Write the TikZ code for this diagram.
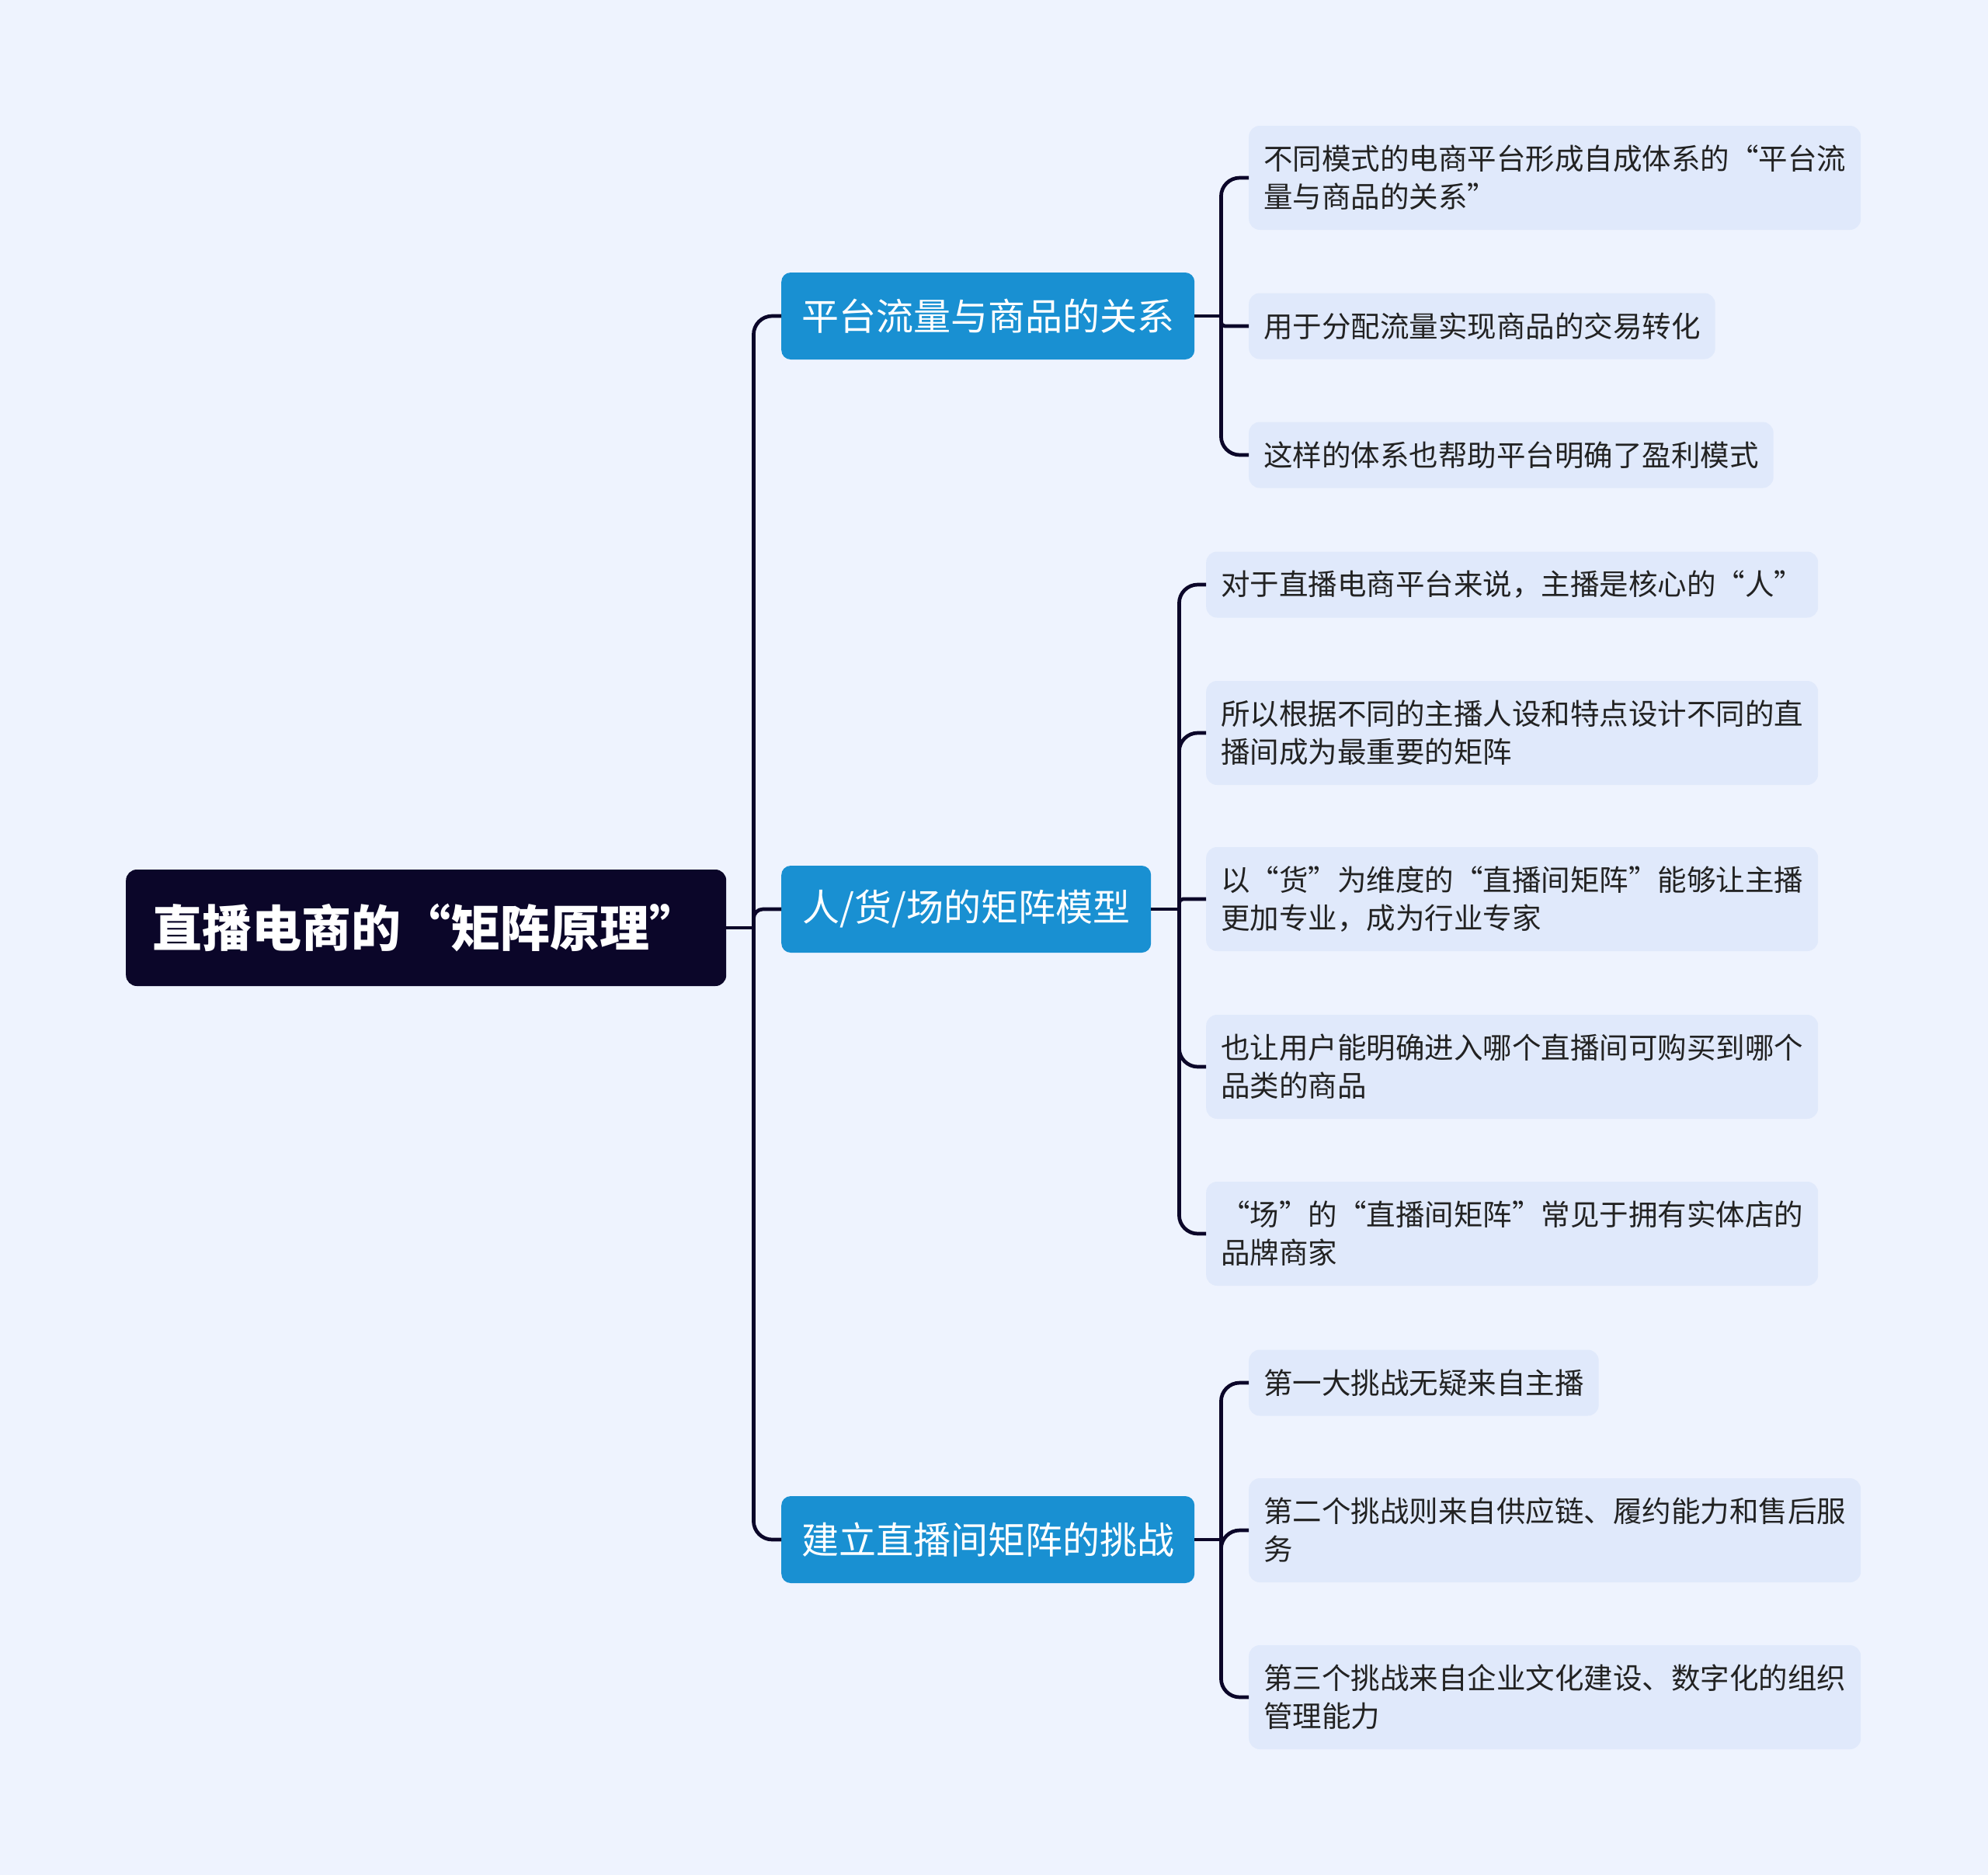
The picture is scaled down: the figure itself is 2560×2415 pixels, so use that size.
\documentclass[tikz,border=0pt]{standalone}
\usepackage{fontspec}
\setmainfont{Noto Sans CJK SC}
\newfontfamily\rootfont{Noto Sans CJK SC Black}
\definecolor{bg}{RGB}{238,243,254}
\definecolor{leaffill}{RGB}{224,233,251}
\definecolor{navy}{RGB}{11,6,41}
\definecolor{brblue}{RGB}{25,144,210}
\definecolor{txt}{RGB}{34,34,34}
\begin{document}
\begin{tikzpicture}[x=1pt,y=-1pt,
 rootbox/.style={fill=navy, rounded corners=14pt, text=white, font=\fontsize{64}{76}\rootfont, minimum width=773pt, minimum height=150pt, inner sep=0pt, anchor=west},
 branchbox/.style={fill=brblue, rounded corners=12pt, text=white, font=\fontsize{48}{58}\selectfont, minimum height=112pt, inner sep=0pt, anchor=west},
 leafbox/.style={fill=leaffill, rounded corners=14pt, text=txt, font=\fontsize{37.5}{49}\selectfont, align=left, inner xsep=19pt, inner ysep=0pt, anchor=west},
 one/.style={minimum height=85pt},
 two/.style={minimum height=134pt},
 link/.style={draw=navy, line width=4.7pt, rounded corners=24pt},
 stub/.style={draw=navy, line width=4.7pt},
 tight/.style={rounded corners=5pt}]
\useasboundingbox[fill=bg] (0,0) rectangle (2560,2415);

\node[rootbox] (root) at (162,1195) {直播电商的“矩阵原理”};

\node[branchbox, minimum width=532pt] (b1) at (1006,407) {平台流量与商品的关系};
\node[branchbox, minimum width=476pt] (b2) at (1006,1171) {人/货/场的矩阵模型};
\node[branchbox, minimum width=532pt] (b3) at (1006,1983) {建立直播间矩阵的挑战};

\node[leafbox, two] (l1a) at (1608,229) {不同模式的电商平台形成自成体系的“平台流\\量与商品的关系”};
\node[leafbox, one] (l1b) at (1608,420) {用于分配流量实现商品的交易转化};
\node[leafbox, one] (l1c) at (1608,586) {这样的体系也帮助平台明确了盈利模式};

\node[leafbox, one] (l2a) at (1553,753) {对于直播电商平台来说，主播是核心的“人”};
\node[leafbox, two] (l2b) at (1553,944) {所以根据不同的主播人设和特点设计不同的直\\播间成为最重要的矩阵};
\node[leafbox, two] (l2c) at (1553,1158) {以“货”为维度的“直播间矩阵”能够让主播\\更加专业，成为行业专家};
\node[leafbox, two] (l2d) at (1553,1374) {也让用户能明确进入哪个直播间可购买到哪个\\品类的商品};
\node[leafbox, two] (l2e) at (1553,1589) {“场”的“直播间矩阵”常见于拥有实体店的\\品牌商家};

\node[leafbox, one] (l3a) at (1608,1781) {第一大挑战无疑来自主播};
\node[leafbox, two] (l3b) at (1608,1971) {第二个挑战则来自供应链、履约能力和售后服\\务};
\node[leafbox, two] (l3c) at (1608,2186) {第三个挑战来自企业文化建设、数字化的组织\\管理能力};

% root level
\draw[stub] (root.east) -- ++(37.35,0);
\draw[link] (root.east) ++(35,0) |- (b1.west);
\draw[link, rounded corners=12pt] (root.east) ++(35,0) |- (b2.west);
\draw[link] (root.east) ++(35,0) |- (b3.west);

% group 1
\draw[stub] (b1.east) -- ++(36.35,0);
\draw[link] (b1.east) ++(34,0) |- (l1a.west);
\draw[link, tight] (b1.east) ++(34,0) |- (l1b.west);
\draw[link] (b1.east) ++(34,0) |- (l1c.west);

% group 2
\draw[stub] (b2.east) -- ++(38.35,0);
\draw[link] (b2.east) ++(36,0) |- (l2a.west);
\draw[link] (b2.east) ++(36,0) |- (l2b.west);
\draw[link, tight] (b2.east) ++(36,0) |- (l2c.west);
\draw[link] (b2.east) ++(36,0) |- (l2d.west);
\draw[link] (b2.east) ++(36,0) |- (l2e.west);

% group 3
\draw[stub] (b3.east) -- ++(36.35,0);
\draw[link] (b3.east) ++(34,0) |- (l3a.west);
\draw[link] (b3.east) ++(34,0) |- (l3b.west);
\draw[link] (b3.east) ++(34,0) |- (l3c.west);
\end{tikzpicture}
\end{document}
